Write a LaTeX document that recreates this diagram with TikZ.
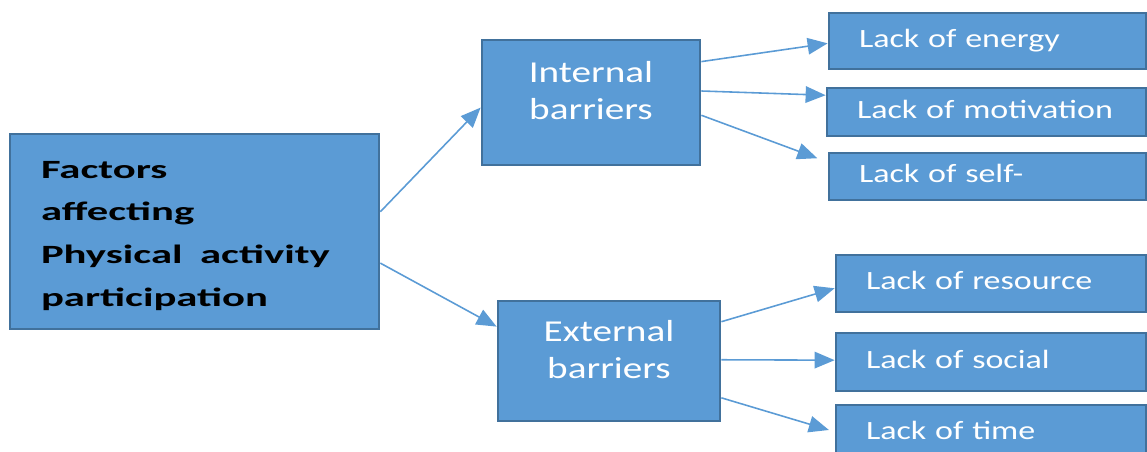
\documentclass[tikz,border=0pt]{standalone}
\usepackage{fontspec}
\newfontfamily\boxfont[FakeStretch=1.29]{Carlito}
\newfontfamily\headfont[FakeStretch=1.62]{Carlito}
\usetikzlibrary{positioning,arrows.meta,calc}
\definecolor{boxblue}{HTML}{5B9BD5}
\definecolor{edgeblue}{HTML}{41719C}
\tikzset{
  barr/.style={-{Triangle[length=0.4cm,width=0.33cm]},line width=0.9pt,draw=boxblue,fill=boxblue},
  basebox/.style={draw=edgeblue,fill=boxblue,line width=1.6pt,rectangle},
  headbox/.style={basebox,align=left,inner xsep=0.62cm,text=black,
                  font=\headfont\bfseries\fontsize{15pt}{24.4pt}\selectfont},
  groupbox/.style={basebox,align=center,text=white,
                   font=\boxfont\fontsize{17.3pt}{20.8pt}\selectfont},
  itembox/.style={basebox,align=left,inner xsep=0.6cm,text=white,text height=10.5pt,text depth=3.5pt,
                  font=\boxfont\fontsize{15pt}{18pt}\selectfont}
}
\begin{document}
\begin{tikzpicture}[x=0.02cm,y=-0.02cm]
\useasboundingbox (0,0) rectangle (1147,452);
\clip (0,0) rectangle (1147,452);

% left block
\node[headbox, text width=6.14cm, minimum height=3.9cm, text depth=70.5pt] (factors) at (194.5,231.5)
   {Factors\\affecting\\Physical\ \ activity\\participation};

% two groups
\node[groupbox, minimum width=4.36cm, minimum height=2.5cm, text depth=14pt] (internal) at (591,102.5)
   {Internal\\barriers};
\node[groupbox, minimum width=4.44cm, minimum height=2.4cm, text depth=13pt] (external) at (609,361)
   {External\\barriers};

% internal items
\node[itembox, text width=5.14cm, minimum height=1.12cm] (energy) at (987.5,41) {Lack of energy};
\node[itembox, text width=5.18cm, minimum height=0.96cm] (motiv) at (986.5,112) {Lack of motivation};
\node[itembox, text width=5.14cm, minimum height=0.94cm] (self) at (987.5,176.5) {Lack of self-};

% external items
\node[itembox, text width=5.0cm, minimum height=1.14cm] (resource) at (991,283.5) {Lack of resource};
\node[itembox, text width=5.0cm, minimum height=1.16cm] (social) at (991,362) {Lack of social};
\node[itembox, text width=5.0cm, minimum height=1.14cm] (time) at (991,433.5) {Lack of time};

\draw[barr] ($(factors.north east)!0.40!(factors.south east)$) -- ($(internal.north west)!0.54!(internal.south west)$);
\draw[barr] ($(factors.north east)!0.66!(factors.south east)$) -- ($(external.north west)!0.22!(external.south west)$);

\draw[barr] ($(internal.north east)!0.18!(internal.south east)$) -- ($(energy.north west)!0.54!(energy.south west)$);
\draw[barr] ($(internal.north east)!0.41!(internal.south east)$) -- ($(motiv.north west)!0.17!(motiv.south west)$);
\draw[barr, shorten >=0.22cm] ($(internal.north east)!0.60!(internal.south east)$) -- ($(self.north west)!0.21!(self.south west)$);

\draw[barr] ($(external.north east)!0.18!(external.south east)$) -- ($(resource.north west)!0.58!(resource.south west)$);
\draw[barr] ($(external.north east)!0.49!(external.south east)$) -- ($(social.north west)!0.47!(social.south west)$);
\draw[barr, shorten >=0.12cm] ($(external.north east)!0.80!(external.south east)$) -- ($(time.north west)!0.47!(time.south west)$);
\end{tikzpicture}
\end{document}
